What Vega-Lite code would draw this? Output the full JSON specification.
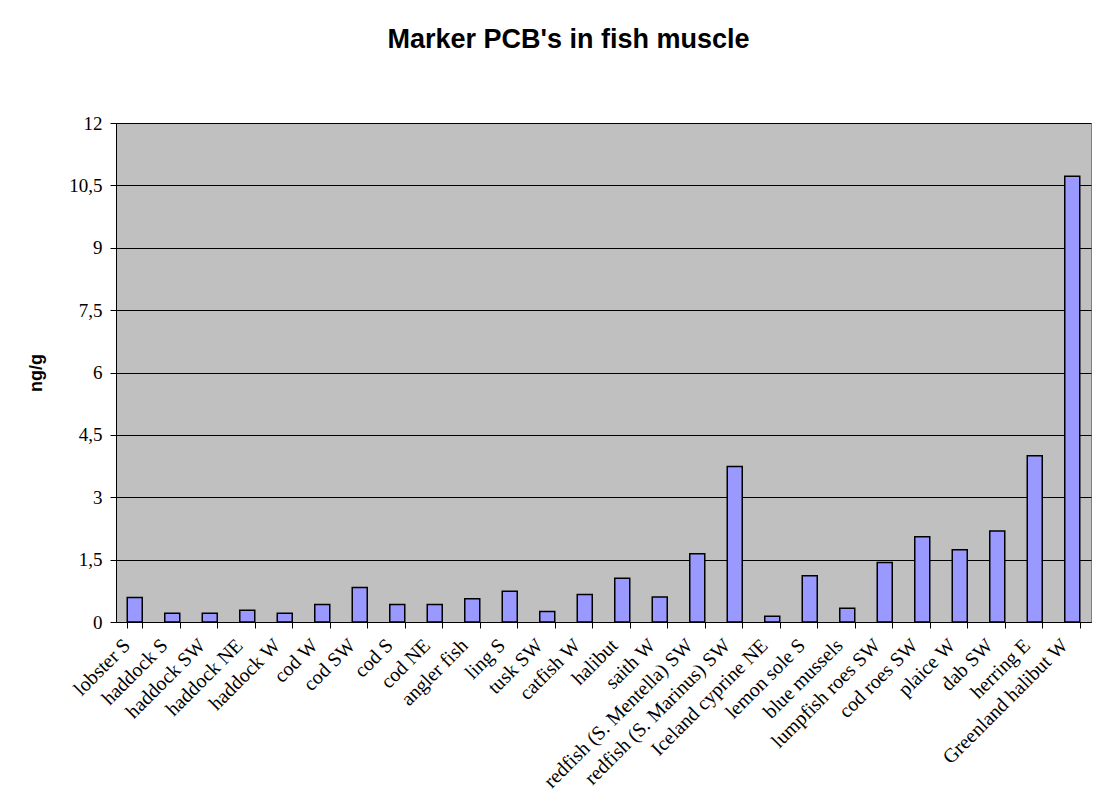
{
  "$schema": "https://vega.github.io/schema/vega-lite/v6.json",
  "width": 975,
  "height": 499,
  "autosize": {"type": "none"},
  "padding": {"left": 116, "top": 123, "right": 28, "bottom": 179},
  "background": "white",
  "title": {
    "text": "Marker PCB's in fish muscle",
    "font": "Liberation Sans",
    "fontSize": 27,
    "fontWeight": "bold",
    "color": "black",
    "anchor": "middle",
    "offset": 60,
    "dx": -35
  },
  "data": {
    "values": [
      {"species": "lobster S", "pcb": 0.59},
      {"species": "haddock S", "pcb": 0.21},
      {"species": "haddock SW", "pcb": 0.21},
      {"species": "haddock NE", "pcb": 0.28},
      {"species": "haddock W", "pcb": 0.21},
      {"species": "cod W", "pcb": 0.42},
      {"species": "cod SW", "pcb": 0.83},
      {"species": "cod S", "pcb": 0.42},
      {"species": "cod NE", "pcb": 0.42},
      {"species": "angler fish", "pcb": 0.56},
      {"species": "ling S", "pcb": 0.74},
      {"species": "tusk SW", "pcb": 0.25},
      {"species": "catfish W", "pcb": 0.66},
      {"species": "halibut", "pcb": 1.05},
      {"species": "saith W", "pcb": 0.6},
      {"species": "redfish (S. Mentella) SW", "pcb": 1.64},
      {"species": "redfish (S. Marinus) SW", "pcb": 3.74},
      {"species": "Iceland cyprine NE", "pcb": 0.14},
      {"species": "lemon sole S", "pcb": 1.11},
      {"species": "blue mussels", "pcb": 0.33},
      {"species": "lumpfish roes SW", "pcb": 1.43},
      {"species": "cod roes SW", "pcb": 2.05},
      {"species": "plaice W", "pcb": 1.74},
      {"species": "dab SW", "pcb": 2.19},
      {"species": "herring E", "pcb": 4.0},
      {"species": "Greenland halibut W", "pcb": 10.72}
    ]
  },
  "mark": {"type": "bar", "fill": "#9999FF", "stroke": "black", "strokeWidth": 1.5},
  "encoding": {
    "x": {
      "field": "species",
      "type": "nominal",
      "sort": null,
      "scale": {"paddingInner": 0.6, "paddingOuter": 0.3},
      "axis": {
        "title": null,
        "labelAngle": -45,
        "labelAlign": "right",
        "labelBaseline": "middle",
        "labelFont": "Liberation Serif",
        "labelFontSize": 20,
        "labelColor": "black",
        "labelPadding": 14,
        "labelOffset": -8,
        "labelLimit": 400,
        "tickBand": "extent",
        "tickSize": 6,
        "tickColor": "black",
        "domainColor": "black",
        "grid": false
      }
    },
    "y": {
      "field": "pcb",
      "type": "quantitative",
      "title": "ng/g",
      "scale": {"domain": [0, 12], "nice": false},
      "axis": {
        "values": [0, 1.5, 3, 4.5, 6, 7.5, 9, 10.5, 12],
        "labelExpr": "replace(toString(datum.value), '.', ',')",
        "labelFont": "Liberation Serif",
        "labelFontSize": 19,
        "labelColor": "black",
        "labelPadding": 8,
        "tickSize": 6,
        "tickColor": "black",
        "domainColor": "black",
        "grid": true,
        "gridColor": "black",
        "gridWidth": 1,
        "titleFont": "Liberation Sans",
        "titleFontSize": 18,
        "titleFontWeight": "bold",
        "titleColor": "black",
        "titlePadding": 23
      }
    }
  },
  "config": {
    "view": {"fill": "#C0C0C0", "stroke": "#808080", "strokeWidth": 1}
  }
}
